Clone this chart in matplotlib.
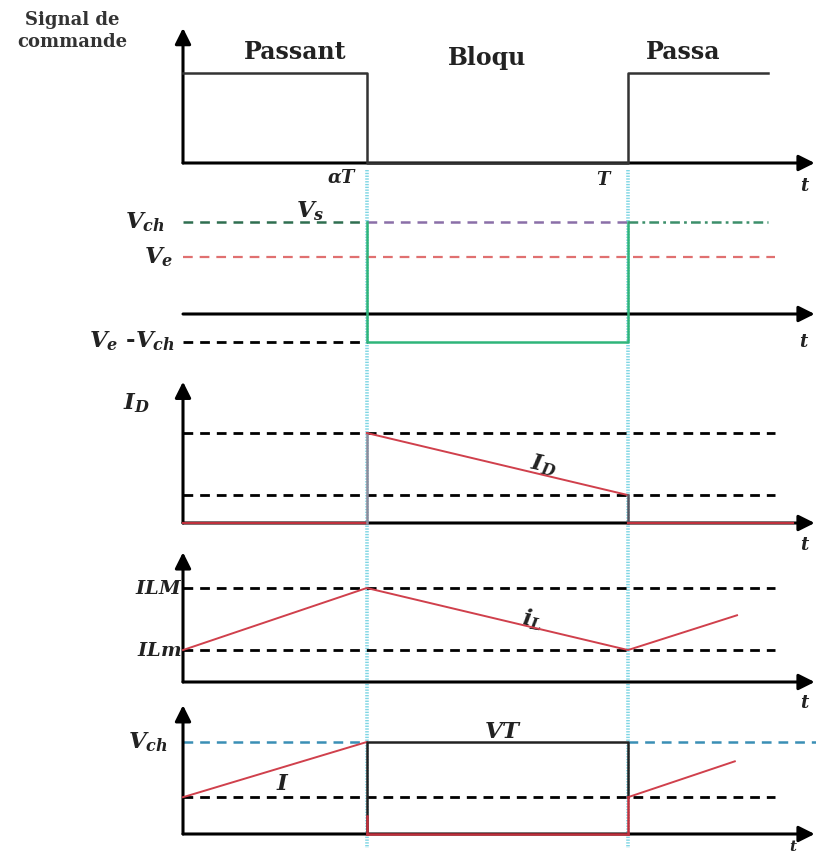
import matplotlib.pyplot as plt

plt.rcParams['mathtext.fontset'] = 'custom'
plt.rcParams['mathtext.it'] = 'DejaVu Serif:italic:bold'
plt.rcParams['mathtext.rm'] = 'DejaVu Serif:bold'
plt.rcParams['lines.scale_dashes'] = False

# période de hachage et rapport cyclique
T = 1.0
alpha = 0.413
aT = alpha * T
t_sig_end = 1.315
t_dash_end = 1.33

# signal de commande (1 = passant, 0 = bloqué)
t_cmd = [0, aT, aT, T, T, t_sig_end]
cmd = [1, 1, 0, 0, 1, 1]

# tensions
Vch = 1.0
Ve = 0.62
Ve_Vch = -0.30
t_vs_on1 = [0, aT]
t_vs_off = [aT, aT, T, T]
vs_off = [Vch, Ve_Vch, Ve_Vch, Vch]
t_vs_on2 = [T, t_sig_end]

# courant diode
ID_max = 1.0
ID_min = 0.31
t_id = [aT, T]
id_ramp = [ID_max, ID_min]

# courant inductance
ILM = 1.0
ILm = 0.34
t_il = [0, aT, T, 1.245]
il = [ILm, ILM, ILm, 0.71]

# interrupteur
I_low = 0.40
t_i1 = [0, aT]
i1 = [I_low, Vch]
t_i2 = [T, 1.24]
i2 = [I_low, 0.79]
t_vt = [aT, aT, T, T]
vt = [0, Vch, Vch, I_low]

W, H = 816, 855
x0_px, px_per_T = 183, 445
xlim = (-x0_px / px_per_T, (W - x0_px) / px_per_T)

fig = plt.figure(figsize=(W / 100, H / 100), dpi=100)
fig.patch.set_facecolor('white')

# fond commun : temps en abscisse, pixels en ordonnée
bg = fig.add_axes([0, 0, 1, 1])
bg.set_xlim(xlim)
bg.set_ylim(H, 0)
bg.axis('off')

# calque pour les textes libres, en pixels
tx = fig.add_axes([0, 0, 1, 1])
tx.set_xlim(0, W)
tx.set_ylim(H, 0)
tx.axis('off')
tx.patch.set_alpha(0)


def panel(top, bottom, zero, unit):
    ax = fig.add_axes([0, 1 - bottom / H, 1, (bottom - top) / H])
    ax.set_xlim(xlim)
    ax.set_ylim((zero - bottom) / unit, (zero - top) / unit)
    ax.axis('off')
    ax.patch.set_alpha(0)
    return ax


arrow = dict(arrowstyle='-|>', color='black', lw=2.2, mutation_scale=24,
             shrinkA=0, shrinkB=0)


def axes_arrows(ax, y_bottom, y_top):
    ax.annotate('', xy=(xlim[1] - 0.003, 0), xytext=(0, 0), arrowprops=arrow, zorder=3)
    ax.annotate('', xy=(0, y_top), xytext=(0, y_bottom), arrowprops=arrow, zorder=3)


def dashed(ax, t0, t1, y, color='black', lw=2.0, dash=(7, 5)):
    ax.plot([t0, t1], [y, y], color=color, lw=lw, dashes=dash, zorder=2)


serif_b = dict(family='DejaVu Serif', weight='bold')
lab = dict(fontsize=16.5, color='#222222')
small = dict(fontsize=13, color='#222222')
red = '#d0404c'

# lignes verticales aux instants αT et T
bg.vlines([aT, T], 170, 848, color='#7fd6e4', lw=2.6, linestyles=(0, (1, 1)), zorder=1)

# --- signal de commande
ax1 = panel(0, 195, 163, 90)
axes_arrows(ax1, 0, 1.5)
ax1.plot(t_cmd, cmd, color='#333333', lw=1.8, zorder=4)
tx.text(72, 31, 'Signal de\ncommande', ha='center', va='center', fontsize=13,
        linespacing=1.35, color='#333333', **serif_b)
tx.text(295, 52, 'Passant', ha='center', va='center', fontsize=17, color='#222222', **serif_b)
tx.text(487, 58, 'Bloqu', ha='center', va='center', fontsize=17, color='#222222', **serif_b)
tx.text(683, 52, 'Passa', ha='center', va='center', fontsize=17, color='#222222', **serif_b)
tx.text(342, 178, r'$\alpha T$', ha='center', va='center', **small)
tx.text(604, 180, r'$T$', ha='center', va='center', **small)
tx.text(805, 186, r'$t$', ha='center', va='center', **small)

# --- tension aux bornes de l'inductance
ax2 = panel(195, 360, 314, 92)
axes_arrows(ax2, Ve_Vch - 0.07, 1.40)
dashed(ax2, 0, t_dash_end, Ve, color='#e07070', lw=1.6)
dashed(ax2, 0, aT, Ve_Vch)
dashed(ax2, aT, T, Vch, color='#8a6fa8', lw=1.8)
ax2.plot(t_vs_on1, [Vch, Vch], color='#2f6e50', lw=1.8, dashes=(7, 5), zorder=4)
ax2.plot(t_vs_off, vs_off, color='#2fb57a', lw=1.8, zorder=4)
ax2.plot(t_vs_on2, [Vch, Vch], color='#3c8f6a', lw=1.8, dashes=(7, 3, 2, 3), zorder=4)
ax2.text(-0.04, Vch, r'$V_{ch}$', ha='right', va='center', **lab)
ax2.text(-0.022, Ve, r'$V_e$', ha='right', va='center', **lab)
ax2.text(-0.018, Ve_Vch, r'$V_e\ \text{-}V_{ch}$', ha='right', va='center', **lab)
ax2.text(0.285, Vch + 0.12, r'$V_s$', ha='center', va='center', **lab)
ax2.text(1.395, Ve_Vch, r'$t$', ha='center', va='center', **small)

# --- courant dans la diode
ax3 = panel(360, 540, 523, 90)
axes_arrows(ax3, 0, 1.57)
dashed(ax3, 0, t_dash_end, ID_max)
dashed(ax3, 0, t_dash_end, ID_min)
ax3.plot([0, aT], [0, 0], color='#c0303c', lw=1.6, zorder=4)
ax3.plot([aT, aT], [0, ID_max], color='#8c8c9c', lw=1.8, zorder=4)
ax3.plot(t_id, id_ramp, color=red, lw=1.4, zorder=4)
ax3.plot([T, T], [ID_min, 0], color='#555560', lw=1.8, zorder=4)
ax3.plot([T, 1.37], [0, 0], color='#c0303c', lw=1.6, zorder=4)
ax3.text(-0.105, 1.33, r'$I_D$', ha='center', va='center', **lab)
ax3.text(0.81, 0.64, r'$I_D$', ha='center', va='center', rotation=-12, **lab)
ax3.text(1.397, -0.24, r'$t$', ha='center', va='center', **small)

# --- courant dans l'inductance
ax4 = panel(540, 695, 682, 94)
axes_arrows(ax4, 0, 1.38)
dashed(ax4, 0, t_dash_end, ILM)
dashed(ax4, 0, t_dash_end, ILm)
ax4.plot(t_il, il, color=red, lw=1.4, zorder=4)
ax4.text(-0.002, ILM, r'$ILM$', ha='right', va='center', fontsize=14, color='#222222')
ax4.text(-0.002, ILm, r'$ILm$', ha='right', va='center', fontsize=14, color='#222222')
ax4.text(0.785, 0.66, r'$i_L$', ha='center', va='center', rotation=-10, **lab)
ax4.text(1.397, -0.22, r'$t$', ha='center', va='center', **small)

# --- interrupteur
ax5 = panel(695, 855, 834, 92)
axes_arrows(ax5, 0, 1.40)
dashed(ax5, 0, aT, Vch, color='#3a8fb5', lw=1.8)
dashed(ax5, T, xlim[1], Vch, color='#3a8fb5', lw=1.8)
dashed(ax5, 0, t_dash_end, I_low)
ax5.plot(t_i1, i1, color=red, lw=1.4, zorder=4)
ax5.plot(t_vt, vt, color='#222222', lw=1.8, zorder=4)
ax5.plot([aT, aT], [0, 0.2], color='#c0303c', lw=1.8, zorder=5)
ax5.plot([aT, T], [0, 0], color='#c0303c', lw=1.8, zorder=4)
ax5.plot([T, T], [I_low, 0], color='#c0303c', lw=1.8, zorder=5)
ax5.plot(t_i2, i2, color=red, lw=1.4, zorder=4)
ax5.text(-0.035, Vch, r'$V_{ch}$', ha='right', va='center', **lab)
ax5.text(0.225, 0.55, r'$I$', ha='center', va='center', **lab)
ax5.text(0.72, Vch + 0.11, r'$VT$', ha='center', va='center', **lab)
ax5.text(1.372, -0.135, r'$t$', ha='center', va='center', fontsize=11, color='#222222')

fig.savefig('out.png', dpi=100, facecolor='white')
